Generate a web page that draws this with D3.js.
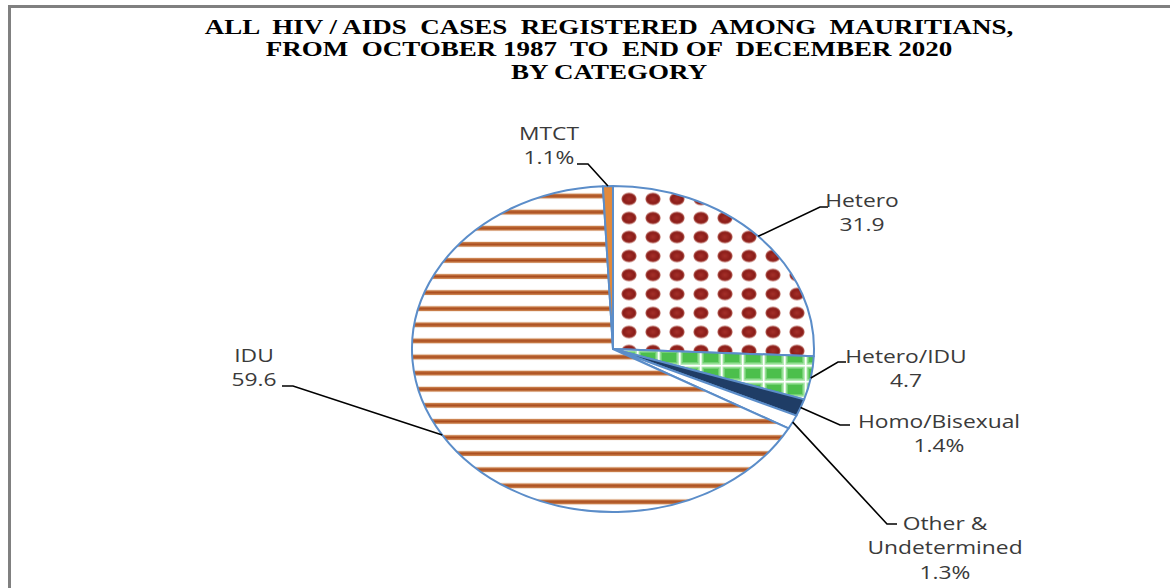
<!DOCTYPE html>
<html>
<head>
<meta charset="utf-8">
<script src="https://cdn.jsdelivr.net/npm/d3@7"></script>
<style>
  body { margin: 0; background: #fff; }
  svg { display: block; }
</style>
</head>
<body>
<div id="chart"></div>
<script>
// title lines
const titleLines = [
  "ALL  HIV / AIDS  CASES  REGISTERED  AMONG  MAURITIANS,",
  "FROM  OCTOBER 1987  TO  END OF  DECEMBER 2020",
  "BY CATEGORY"
];

// categories in drawing order (clockwise from 12 o'clock)
const categories = ["Hetero", "Hetero/IDU", "Homo/Bisexual", "Other & Undetermined", "IDU", "MTCT"];
// slice shares as drawn in the picture (%)
const sliceShares = [25.7, 4.3, 1.7, 1.4, 66.1, 0.8];
// label texts as printed on the chart
const labelTexts = [
  ["Hetero", "31.9"],
  ["Hetero/IDU", "4.7"],
  ["Homo/Bisexual", "1.4%"],
  ["Other &", "Undetermined", "1.3%"],
  ["IDU", "59.6"],
  ["MTCT", "1.1%"]
];

const width = 1170, height = 588;
const cx = 613, cy = 349, ry = 163;
const kx = 201 / 163;   // the whole picture is stretched horizontally

// label layout: elbow of the leader, end of the leader, text centre
const labelLayout = {
  "Hetero":               { elbow: [820, 207], end: [828, 207], text: [862, 200] },
  "Hetero/IDU":           { elbow: [838, 362], end: [846, 362], text: [906, 356] },
  "Homo/Bisexual":        { elbow: [840, 425], end: [850, 425], text: [939, 421] },
  "Other & Undetermined": { elbow: [887, 524], end: [897, 524], text: [945, 523] },
  "IDU":                  { elbow: [293, 386], end: [282, 386], text: [254, 355] },
  "MTCT":                 { elbow: [588, 164], end: [577, 164], text: [549, 133] }
};

const svg = d3.select("#chart")
  .append("svg")
  .attr("width", width)
  .attr("height", height);

// frame
svg.append("rect")
  .attr("x", 9.5).attr("y", 6.5)
  .attr("width", 1300).attr("height", 800)
  .attr("fill", "none")
  .attr("stroke", "#808080")
  .attr("stroke-width", 3);

// ---- patterns ----
const defs = svg.append("defs");
const unstretch = "scale(" + (1 / kx) + ",1)";

const dotGrad = defs.append("radialGradient").attr("id", "dotGrad");
dotGrad.append("stop").attr("offset", "0%").attr("stop-color", "#a5302a");
dotGrad.append("stop").attr("offset", "75%").attr("stop-color", "#8a1c18");
dotGrad.append("stop").attr("offset", "100%").attr("stop-color", "#b8645a");

const dots = defs.append("pattern")
  .attr("id", "dots")
  .attr("patternUnits", "userSpaceOnUse")
  .attr("patternTransform", unstretch)
  .attr("x", 4).attr("y", 11.5)
  .attr("width", 24).attr("height", 19);
dots.append("rect").attr("width", 24).attr("height", 19).attr("fill", "#fff");
dots.append("ellipse")
  .attr("cx", 12).attr("cy", 9.5).attr("rx", 7.6).attr("ry", 6.2)
  .attr("fill", "url(#dotGrad)");

const stripeGrad = defs.append("linearGradient")
  .attr("id", "stripeGrad").attr("x1", 0).attr("y1", 0).attr("x2", 0).attr("y2", 1);
stripeGrad.append("stop").attr("offset", "0%").attr("stop-color", "#d4905a");
stripeGrad.append("stop").attr("offset", "50%").attr("stop-color", "#a84a1c");
stripeGrad.append("stop").attr("offset", "100%").attr("stop-color", "#d4905a");

const stripes = defs.append("pattern")
  .attr("id", "stripes")
  .attr("patternUnits", "userSpaceOnUse")
  .attr("patternTransform", unstretch)
  .attr("x", 0).attr("y", 0)
  .attr("width", 16).attr("height", 16.1);
stripes.append("rect").attr("width", 16).attr("height", 16.1).attr("fill", "#fff");
stripes.append("rect").attr("y", 5.5).attr("width", 16).attr("height", 5).attr("fill", "url(#stripeGrad)");

const checks = defs.append("pattern")
  .attr("id", "checks")
  .attr("patternUnits", "userSpaceOnUse")
  .attr("patternTransform", unstretch)
  .attr("x", 3).attr("y", 0)
  .attr("width", 21).attr("height", 16);
checks.append("rect").attr("width", 21).attr("height", 16).attr("fill", "#b8ecb8");
checks.append("rect").attr("x", 2.5).attr("y", 2.5).attr("width", 17).attr("height", 12).attr("fill", "#72d072");
checks.append("rect").attr("x", 4).attr("y", 4).attr("width", 14).attr("height", 9).attr("fill", "#4cbf4c");
checks.append("rect").attr("x", 0).attr("y", 0).attr("width", 1.5).attr("height", 16).attr("fill", "#ffffff");
checks.append("rect").attr("x", 0).attr("y", 0).attr("width", 21).attr("height", 1.5).attr("fill", "#ffffff");

const fills = {
  "Hetero": "url(#dots)",
  "Hetero/IDU": "url(#checks)",
  "Homo/Bisexual": "#1f3d66",
  "Other & Undetermined": "#ffffff",
  "IDU": "url(#stripes)",
  "MTCT": "#e2893b"
};

// ---- pie ----
const data = categories.map((c, i) => ({ name: c, value: sliceShares[i], lines: labelTexts[i] }));

const pie = d3.pie()
  .sort(null)
  .value(d => d.value)
  .startAngle(0)
  .endAngle(2 * Math.PI);
const arcs = pie(data);

const arc = d3.arc().innerRadius(0).outerRadius(ry);
const rim = d3.arc().innerRadius(ry).outerRadius(ry);

const pieG = svg.append("g")
  .attr("transform", "translate(" + cx + "," + cy + ") scale(" + kx + ",1)");

pieG.selectAll("path")
  .data(arcs)
  .enter()
  .append("path")
  .attr("d", arc)
  .attr("fill", d => fills[d.data.name])
  .attr("stroke", "#5b8dc9")
  .attr("stroke-width", 2)
  .attr("stroke-linejoin", "round")
  .attr("vector-effect", "non-scaling-stroke");

// ---- leader lines ----
svg.append("g").selectAll("path")
  .data(arcs)
  .enter()
  .append("path")
  .attr("d", d => {
    const c = rim.centroid(d);
    const p = [cx + kx * c[0], cy + c[1]];
    const L = labelLayout[d.data.name];
    return "M" + p + "L" + L.elbow + "L" + L.end;
  })
  .attr("fill", "none")
  .attr("stroke", "#000")
  .attr("stroke-width", 1.6);

// ---- labels ----
const labelG = svg.append("g").selectAll("g")
  .data(arcs)
  .enter()
  .append("g")
  .attr("transform", d => {
    const t = labelLayout[d.data.name].text;
    return "translate(" + t[0] + "," + t[1] + ") scale(" + kx + ",1)";
  });

labelG.each(function (d) {
  d3.select(this).selectAll("text")
    .data(d.data.lines)
    .enter()
    .append("text")
    .attr("x", 0)
    .attr("y", (s, i) => i * 25 + 6.5)
    .attr("text-anchor", "middle")
    .attr("font-family", "'Open Sans', sans-serif")
    .attr("font-size", 18.5)
    .attr("fill", "#3a3a3a")
    .text(s => s);
});

// ---- title ----
const titleG = svg.append("g")
  .attr("transform", "translate(609,0) scale(1.35,1)");
titleG.selectAll("text")
  .data(titleLines)
  .enter()
  .append("text")
  .attr("x", 0)
  .attr("y", (s, i) => 34 + i * 22.5)
  .attr("text-anchor", "middle")
  .attr("xml:space", "preserve")
  .style("white-space", "pre")
  .attr("font-family", "'Liberation Serif', 'Times New Roman', serif")
  .attr("font-weight", "bold")
  .attr("font-size", 20)
  .attr("fill", "#000")
  .text(s => s);
</script>
</body>
</html>
